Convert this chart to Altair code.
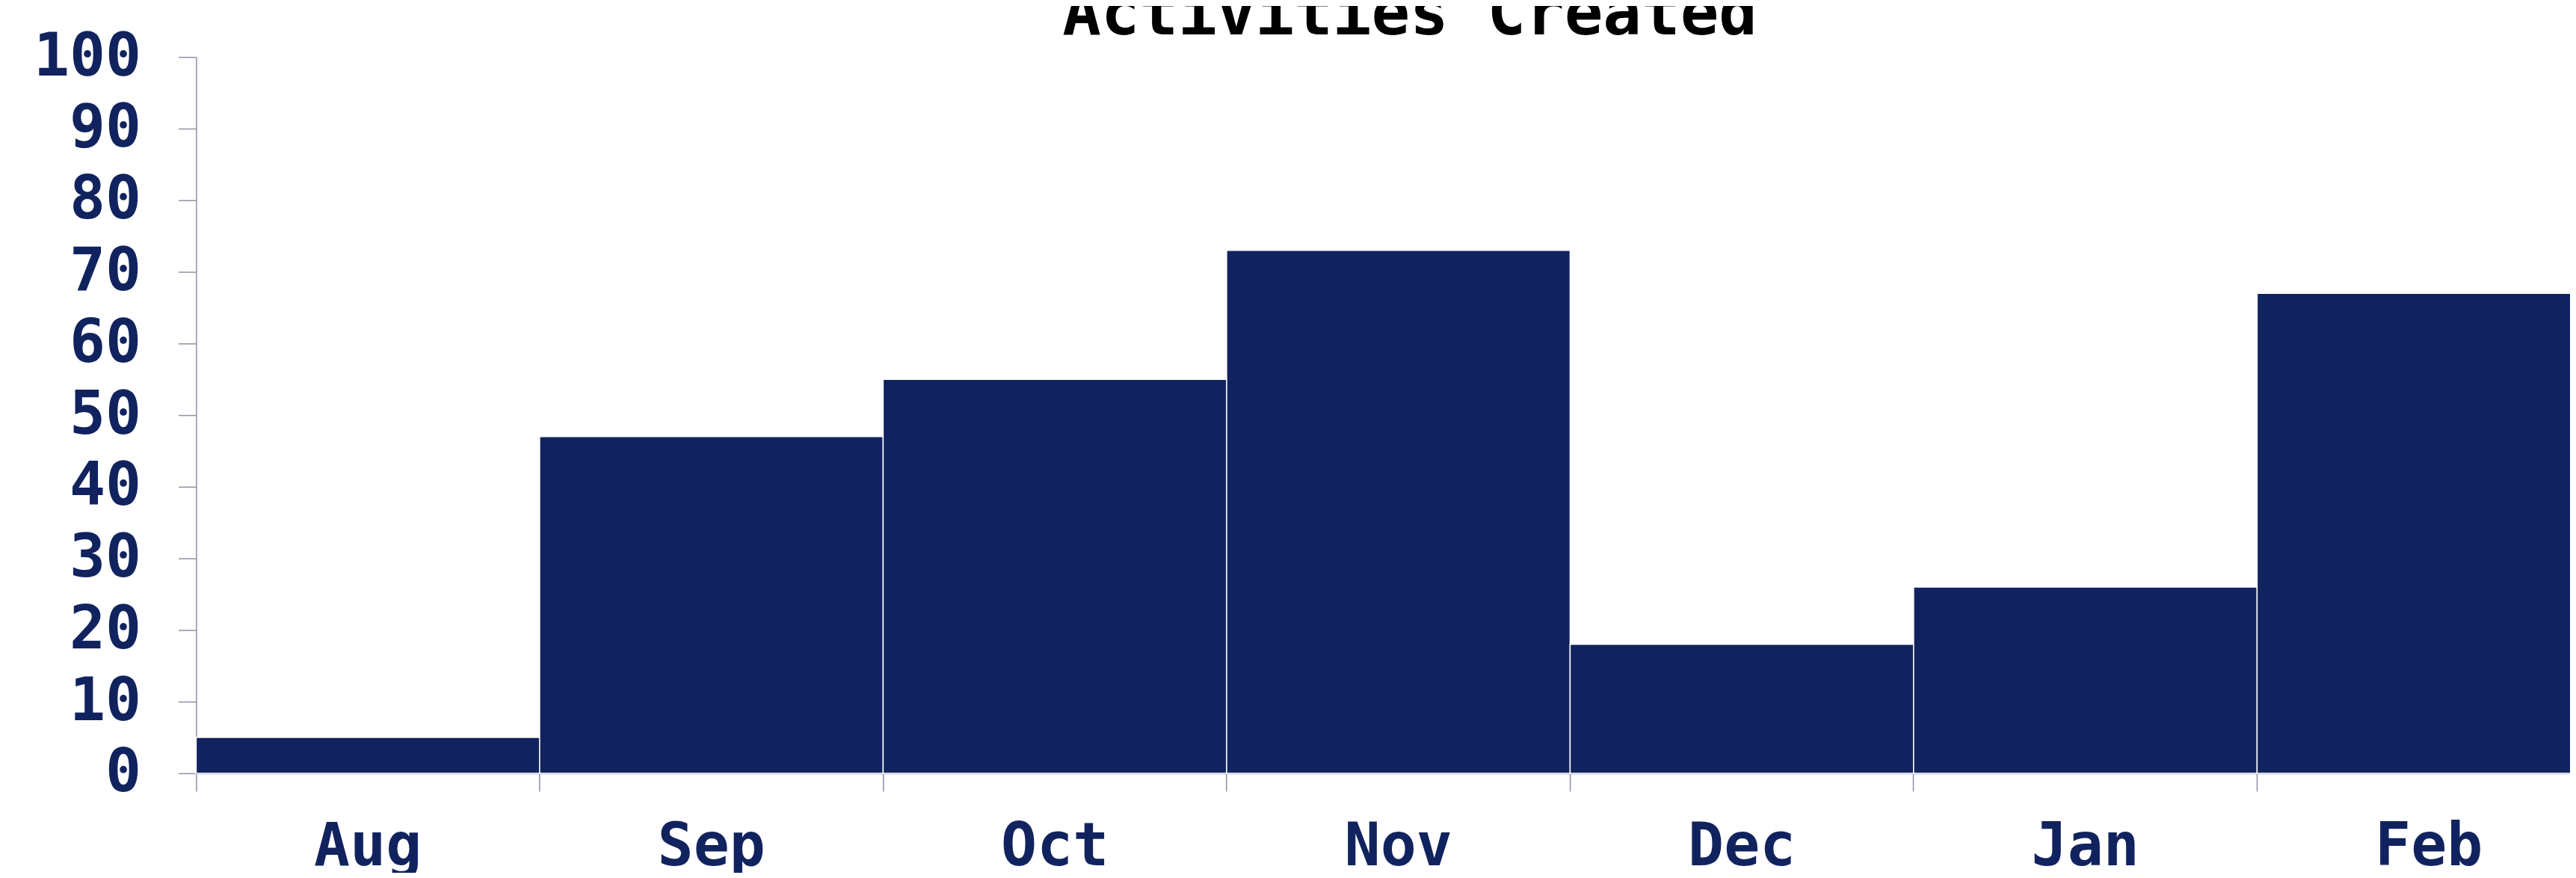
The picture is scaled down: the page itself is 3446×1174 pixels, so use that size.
import altair as alt
import pandas as pd

months = ["Aug", "Sep", "Oct", "Nov", "Dec", "Jan", "Feb"]
counts = [5, 47, 55, 73, 18, 26, 67]
y_ticks = [0, 10, 20, 30, 40, 50, 60, 70, 80, 90, 100]

df = pd.DataFrame({"month": months, "count": counts})

NAVY = "#11235e"
AXIS_GRAY = "#8e92a3"
FONT = "DejaVu Sans Mono"

chart = (
    alt.Chart(df)
    .mark_bar(color=NAVY, stroke="white", strokeWidth=1.5)
    .encode(
        x=alt.X(
            "month:N",
            sort=months,
            title=None,
            scale=alt.Scale(paddingInner=0, paddingOuter=0, range=[0, 3224]),
            axis=alt.Axis(
                labelAngle=0,
                bandPosition=0,
                tickSize=24,
                labelPadding=36,
                labelFontSize=80,
                labelFont=FONT,
                labelFontWeight="bold",
                labelColor=NAVY,
                domainColor=AXIS_GRAY,
                tickColor=AXIS_GRAY,
                domainWidth=1.5,
                tickWidth=1.5,
                labelFlush=False,
                labelOverlap=False,
            ),
        ),
        y=alt.Y(
            "count:Q",
            title=None,
            scale=alt.Scale(domain=[0, 100], nice=False),
            axis=alt.Axis(
                values=y_ticks,
                tickSize=24,
                labelPadding=50,
                labelFontSize=80,
                labelFont=FONT,
                labelFontWeight="bold",
                labelColor=NAVY,
                domainColor=AXIS_GRAY,
                tickColor=AXIS_GRAY,
                domainWidth=1.5,
                tickWidth=1.5,
                grid=False,
                labelFlush=False,
                labelOverlap=False,
            ),
        ),
    )
    .properties(
        width=3183,
        height=960,
        autosize=alt.AutoSizeParams(type="none"),
        padding={"left": 255, "top": 67, "right": 0, "bottom": 132},
        title=alt.TitleParams(
            "Activities Created",
            font=FONT,
            fontSize=86,
            fontWeight="bold",
            color="black",
            frame="group",
            anchor="middle",
            baseline="alphabetic",
            offset=0,
            dx=36,
            dy=96,
        ),
    )
    .configure_view(strokeWidth=0)
)

chart.save("out.html", embed_options={"renderer": "svg", "actions": False})
